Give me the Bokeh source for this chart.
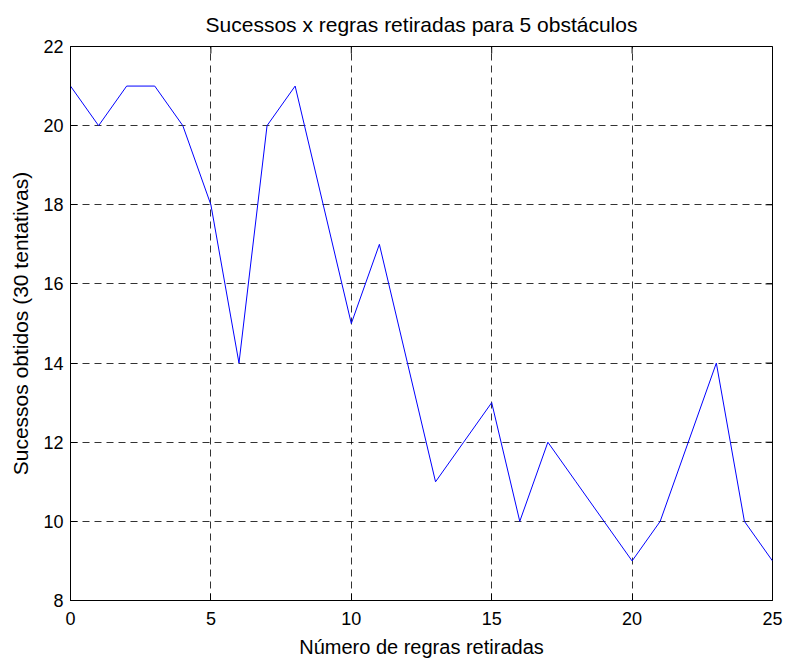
import math
from bokeh.plotting import figure
from bokeh.embed import file_html
from bokeh.resources import INLINE
from bokeh.models import Range1d, FixedTicker

regras = list(range(0, 26))
sucessos = [21, 20, 21, 21, 20, 18, 14, 20, 21, 18, 15, 17, 14, 11, 12, 13,
            10, 12, 11, 10, 9, 10, 12, 14, 10, 9]
x_ticks = [0, 5, 10, 15, 20, 25]
y_ticks = [8, 10, 12, 14, 16, 18, 20, 22]
x_min, x_max = 0, 25
y_min, y_max = 8, 22

FONT = "Liberation Sans"
TICK = 7

p = figure(output_backend="svg", toolbar_location=None,
           frame_width=702, frame_height=554,
           min_border_left=70, min_border_right=14,
           min_border_top=46, min_border_bottom=57,
           x_range=Range1d(x_min, x_max), y_range=Range1d(y_min, y_max),
           title="Sucessos x regras retiradas para 5 obstáculos")

p.title.text_font = FONT
p.title.text_font_size = "21px"
p.title.text_font_style = "normal"
p.title.align = "center"
p.title.vertical_align = "top"
p.title.text_color = "black"
p.title.offset = 0
p.title.standoff = 17

for g in (p.xgrid, p.ygrid):
    g.grid_line_color = "black"
    g.grid_line_alpha = 0.8
    g.grid_line_dash = "7 5"
    g.grid_line_width = 1
p.xgrid.ticker = FixedTicker(ticks=x_ticks)
p.ygrid.ticker = FixedTicker(ticks=y_ticks)

p.line(regras, sucessos, line_color="#0000ff", line_width=1)

# inward ticks on top and right sides (clipped to the frame)
p.scatter(x=x_ticks, y=[y_max] * len(x_ticks), marker="dash", size=2 * TICK,
          angle=math.pi / 2, line_color="black", line_width=1)
p.scatter(x=[x_max] * len(y_ticks), y=y_ticks, marker="dash", size=2 * TICK,
          line_color="black", line_width=1)

p.outline_line_color = "black"
p.outline_line_width = 1
p.background_fill_color = "white"
p.border_fill_color = "white"

for ax in p.xaxis + p.yaxis:
    ax.major_label_text_font = FONT
    ax.major_label_text_font_size = "18px"
    ax.major_label_text_color = "black"
    ax.axis_label_text_font = FONT
    ax.axis_label_text_font_style = "normal"
    ax.axis_label_text_color = "black"
    ax.major_tick_in = TICK
    ax.major_tick_out = 0
    ax.minor_tick_in = 0
    ax.minor_tick_out = 0
    ax.axis_line_color = "black"
    ax.major_tick_line_color = "black"

p.xaxis.ticker = FixedTicker(ticks=x_ticks)
p.yaxis.ticker = FixedTicker(ticks=y_ticks)
p.xaxis.axis_label = "Número de regras retiradas"
p.yaxis.axis_label = "Sucessos obtidos (30 tentativas)"
p.xaxis.axis_label_text_font_size = "20px"
p.yaxis.axis_label_text_font_size = "21px"
p.xaxis.major_label_standoff = 11
p.yaxis.major_label_standoff = 7
p.xaxis.axis_label_standoff = 8
p.yaxis.axis_label_standoff = 8

open("out.html", "w").write(file_html(p, INLINE))
